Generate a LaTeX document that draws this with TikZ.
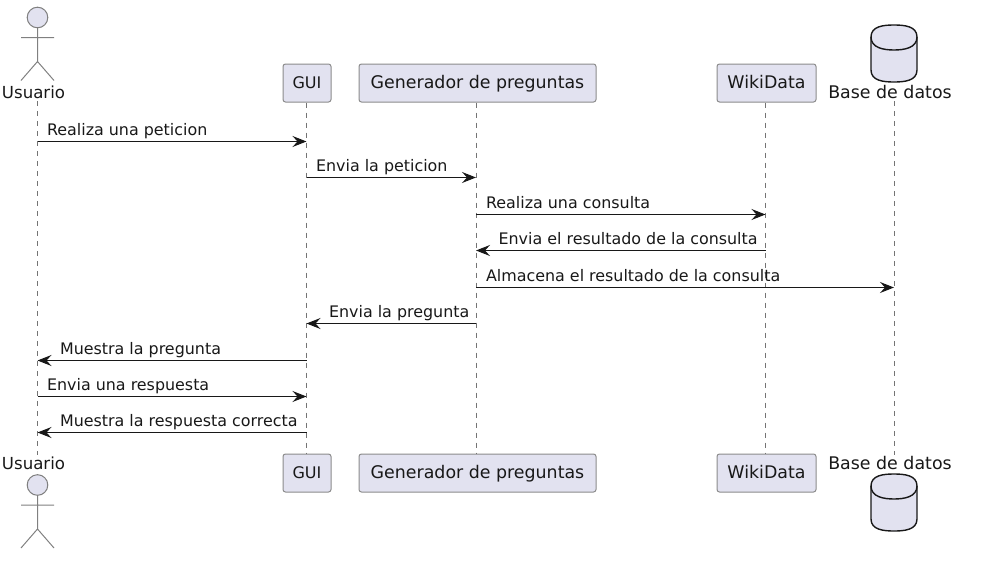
\documentclass[tikz,border=0pt]{standalone}
\usepackage{fontspec}
\setmainfont{DejaVu Sans}
\usepackage{xcolor}
\usepackage{tikz}
\usetikzlibrary{arrows.meta,positioning,calc}
\definecolor{partfill}{HTML}{E2E2F0}
\definecolor{inkdark}{HTML}{181818}

\begin{document}
\begin{tikzpicture}[
    x=1pt,y=-1pt,
    part/.style={rectangle,draw=inkdark!50,fill=partfill,rounded corners=2.5pt,line width=1pt,
                 minimum height=38pt,inner xsep=0pt,text height=13pt,text depth=3pt,text=inkdark,
                 font=\fontsize{17.4}{20}\selectfont},
    actorlabel/.style={inner sep=0pt,text=inkdark,font=\fontsize{17.4}{20}\selectfont},
    life/.style={draw=inkdark!60,line width=0.8pt,dash pattern=on 5pt off 5pt},
    arr/.style={-{Stealth[length=14pt,width=11pt,inset=5pt]},draw=inkdark,line width=1.1pt},
    msg/.style={anchor=base west,inner sep=0pt,yshift=6.5pt,text=inkdark,font=\fontsize{15.9}{18}\selectfont},
    pics/stick/.style={code={
        \draw[draw=inkdark!55,fill=partfill,line width=1pt] (0,0) circle[radius=10.3pt];
        \draw[draw=inkdark!55,line width=1pt] (0,10.3) -- (0,44) (-16.5,20) -- (16.5,20)
            (-16.5,63) -- (0,44) -- (16.5,63);
    }},
    pics/dbcyl/.style={code={
        \draw[draw=inkdark,fill=partfill,line width=1.4pt] (-23,12) .. controls (-23,1) and (-10,0) .. (0,0)
            .. controls (10,0) and (23,1) .. (23,12) -- (23,45) .. controls (23,56) and (10,57) .. (0,57)
            .. controls (-10,57) and (-23,56) .. (-23,45) -- cycle;
        \draw[draw=inkdark,line width=1.4pt] (-23,12) .. controls (-23,23) and (-10,25) .. (0,25)
            .. controls (10,25) and (23,23) .. (23,12);
    }}
]
\useasboundingbox (0,0) rectangle (983,562);

% lifeline heads and feet
\coordinate (usuarioTop) at (37.5,101);
\coordinate (usuarioEnd) at (37.5,455);
\coordinate (datosTop) at (894,101);
\coordinate (datosEnd) at (894,455);
\node[part,minimum width=48pt,font=\fontsize{16}{20}\selectfont] (guiTop) at (307,83) {GUI};
\node[part,minimum width=237pt] (genTop) at (477.5,83) {Generador de preguntas};
\node[part,minimum width=99pt] (wikiTop) at (766.5,83) {WikiData};
\node[part,minimum width=48pt,font=\fontsize{16}{20}\selectfont] (guiEnd) at (307,473) {GUI};
\node[part,minimum width=237pt] (genEnd) at (477.5,473) {Generador de preguntas};
\node[part,minimum width=99pt] (wikiEnd) at (766.5,473) {WikiData};

\draw[life] (usuarioTop) -- (usuarioEnd);
\draw[life] (guiTop.south -| 306.5,0) -- (guiEnd.north -| 306.5,0);
\draw[life] (genTop.south -| 476,0) -- (genEnd.north -| 476,0);
\draw[life] (wikiTop.south -| 765.5,0) -- (wikiEnd.north -| 765.5,0);
\draw[life] (datosTop) -- (datosEnd);

% actors and database
\pic at (37.5,17.5) {stick};
\pic at (37.5,485) {stick};
\pic at (894,25) {dbcyl};
\pic at (894,474) {dbcyl};
\node[actorlabel,anchor=base,font=\fontsize{16.6}{20}\selectfont] (usuarioName) at (33.5,98) {Usuario};
\node[actorlabel,anchor=base] (datosName) at (890,98) {Base de datos};
\node[actorlabel,anchor=base,font=\fontsize{16.6}{20}\selectfont] (usuarioFoot) at (33.5,469) {Usuario};
\node[actorlabel,anchor=base] (datosFoot) at (890,469) {Base de datos};

% message rows
\coordinate (row1) at (0,141.5);
\coordinate (row2) at (0,177.5);
\coordinate (row3) at (0,214.5);
\coordinate (row4) at (0,250.5);
\coordinate (row5) at (0,287.5);
\coordinate (row6) at (0,323.5);
\coordinate (row7) at (0,360.5);
\coordinate (row8) at (0,396.5);
\coordinate (row9) at (0,432.5);
\coordinate (gui) at (306.5,0);
\coordinate (gen) at (476,0);
\coordinate (wiki) at (765.5,0);

\draw[arr] (usuarioTop |- row1) -- (gui |- row1) node[msg,pos=0,xshift=9pt] (msg1) {Realiza una peticion};
\draw[arr] (gui |- row2) -- (gen |- row2) node[msg,pos=0,xshift=9pt] (msg2) {Envia la peticion};
\draw[arr] (gen |- row3) -- (wiki |- row3) node[msg,pos=0,xshift=9.5pt] (msg3) {Realiza una consulta};
\draw[arr] (wiki |- row4) -- (gen |- row4) node[msg,pos=1,xshift=22pt] (msg4) {Envia el resultado de la consulta};
\draw[arr] (gen |- row5) -- (datosTop |- row5) node[msg,pos=0,xshift=9.5pt] (msg5) {Almacena el resultado de la consulta};
\draw[arr] (gen |- row6) -- (gui |- row6) node[msg,pos=1,xshift=22pt] (msg6) {Envia la pregunta};
\draw[arr] (gui |- row7) -- (usuarioTop |- row7) node[msg,pos=1,xshift=22pt] (msg7) {Muestra la pregunta};
\draw[arr] (usuarioTop |- row8) -- (gui |- row8) node[msg,pos=0,xshift=9pt] (msg8) {Envia una respuesta};
\draw[arr] (gui |- row9) -- (usuarioTop |- row9) node[msg,pos=1,xshift=22pt] (msg9) {Muestra la respuesta correcta};
\end{tikzpicture}
\end{document}
